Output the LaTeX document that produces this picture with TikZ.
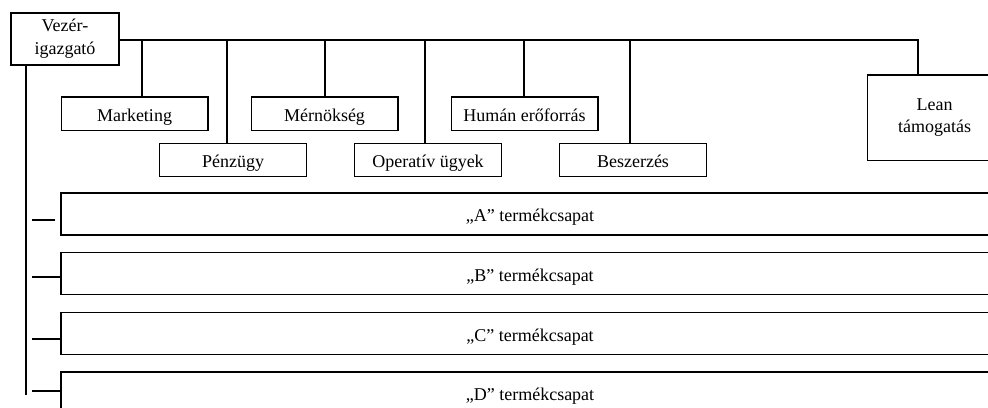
\documentclass[tikz,border=0pt]{standalone}
\usepackage{fontspec}
\setmainfont{Liberation Serif}

\begin{document}
\begin{tikzpicture}[x=0.75pt,y=-0.75pt,line width=1pt,
	box/.style={draw,rectangle,inner sep=0pt,align=center,minimum width=110pt,minimum height=25pt,font=\fontsize{13.5}{17}\selectfont},
	unit/.style={box,text height=12.5pt,text depth=1pt}]
\useasboundingbox (0,0) rectangle (988,407);
\clip (0,0) rectangle (988,407);
\node[box,minimum width=81pt,minimum height=39pt] (vez) at (65,39) {Vezér-\\igazgató};
\node[unit] (mark) at (134.5,113.5) {Marketing};
\node[unit] (mern) at (324.5,113.5) {Mérnökség};
\node[unit] (hum) at (524.5,113.5) {Humán erőforrás};
\node[unit] (penz) at (233,160) {Pénzügy};
\node[unit] (oper) at (428,160) {Operatív ügyek};
\node[unit] (besz) at (633,160) {Beszerzés};
\node[box,minimum width=101pt,minimum height=64pt] (lean) at (934.5,117.5) {Lean\\támogatás};
\foreach \t/\y/\n in {tA/214/A,tB/273.5/B,tC/333.5/C,tD/393/D}{
	\node[unit,minimum width=703.5pt,minimum height=31.5pt] (\t) at (530,\y) {„\n” termékcsapat};
	}
\coordinate (top) at (918,40);
\coordinate (bot) at (26,395);
\draw (vez.east |- top) -- (top) -- (top |- lean.north);
\foreach \b/\x in {mark/142,penz/227,mern/325,oper/425,hum/524,besz/630}{
	\draw (\b.north -| \x,0) -- (\x,0 |- top);
	}
\draw (vez.south -| bot) -- (bot);
\foreach \t/\y/\g in {tA/220/5,tB/277/0,tC/339/0,tD/391/0}{
	\draw[shorten <=\g*0.75pt,shorten >=4.5pt] (\t.west |- 0,\y) -- (bot |- 0,\y);
	}
\end{tikzpicture}
\end{document}
